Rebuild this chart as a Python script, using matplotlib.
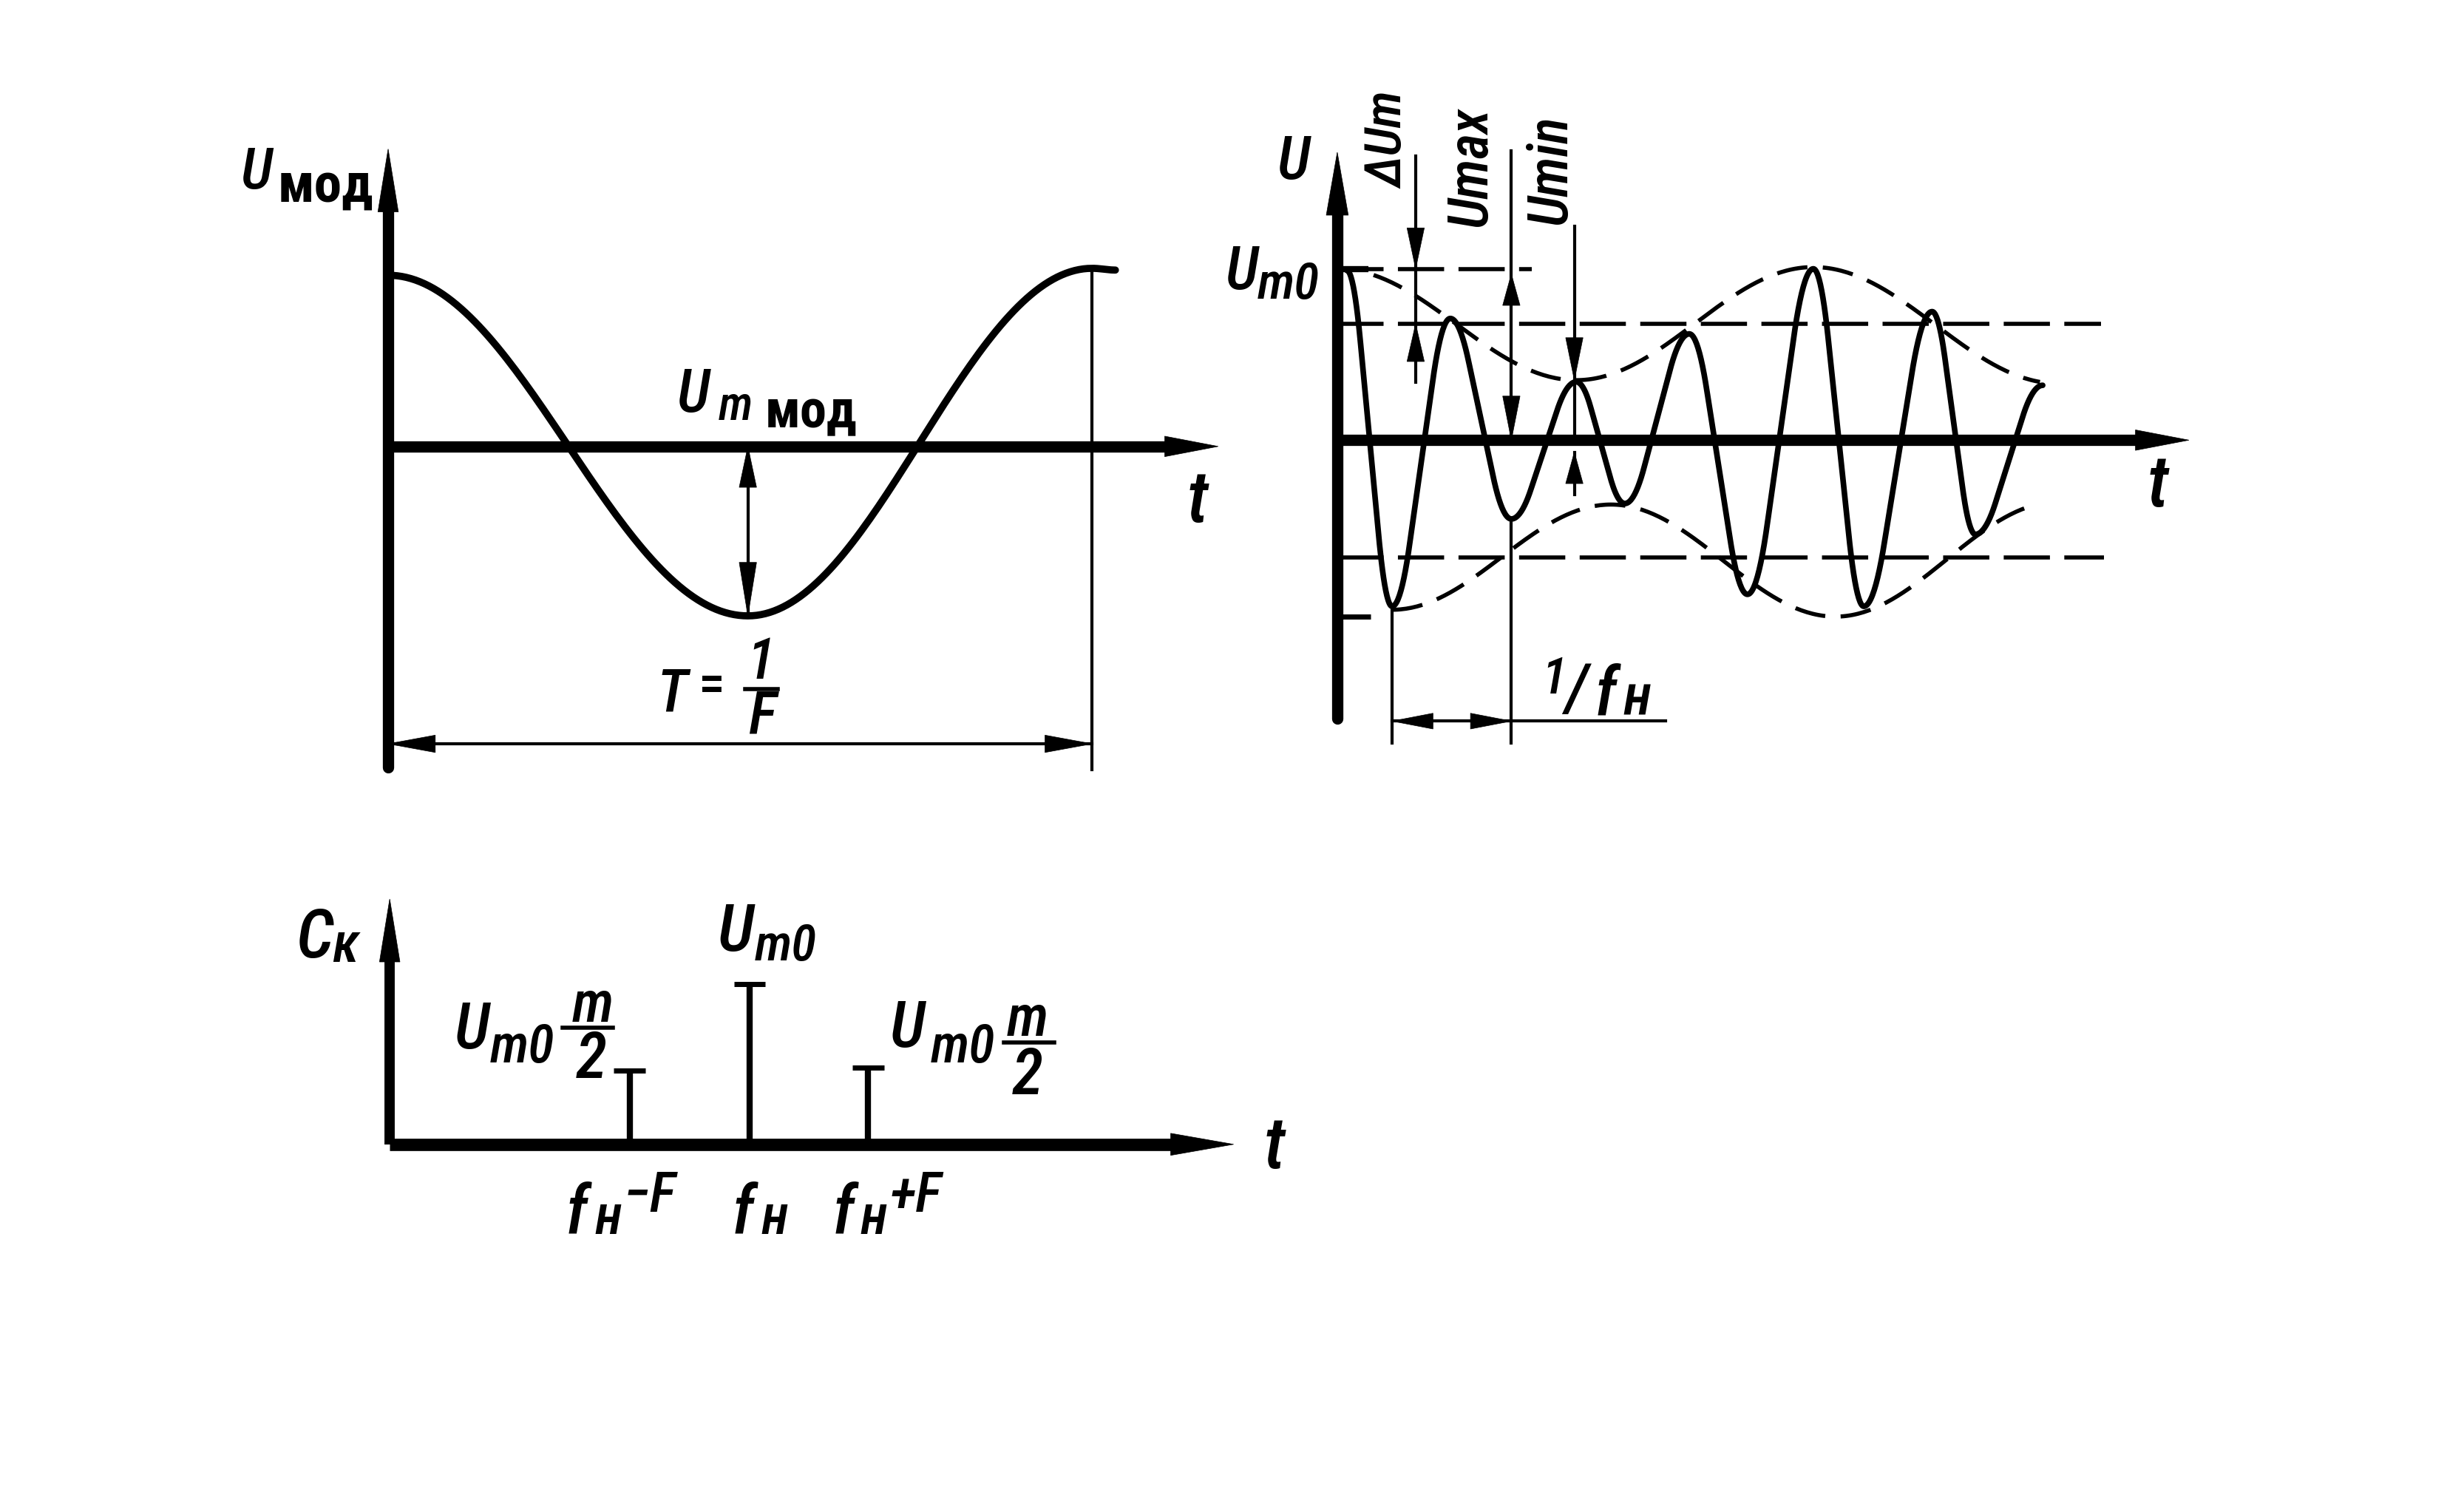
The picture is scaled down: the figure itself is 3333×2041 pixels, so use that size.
import numpy as np
import matplotlib
matplotlib.use('Agg')
import matplotlib.pyplot as plt
from matplotlib import transforms
from matplotlib.patches import Polygon
from matplotlib.lines import Line2D

plt.rcParams['lines.scale_dashes'] = False
plt.rcParams['font.family'] = ['Roboto Condensed', 'Roboto', 'DejaVu Sans']

# ---------------- data ----------------
# modulating signal, extrema: t in periods T, u in units of U_m мод
mod_t = [0.0, 0.511, 1.0, 1.033]
mod_u = [0.99, -0.98, 1.03, 1.02]

# AM oscillation, carrier extrema: t in modulation periods, u relative to U_max
am_t = [0.020, 0.114, 0.235, 0.362, 0.497, 0.598, 0.732, 0.853, 0.990, 1.095, 1.237, 1.327, 1.467]
am_u = [0.99, -0.97, 0.71, -0.46, 0.34, -0.37, 0.62, -0.90, 1.00, -0.97, 0.75, -0.55, 0.32]

# envelope extrema
env_up_t = [0.0, 0.497, 0.990, 1.50]
env_up_u = [1.0, 0.35, 1.01, 0.33]
env_lo_t = [0.114, 0.569, 1.036, 1.50]
env_lo_u = [-0.99, -0.376, -1.03, -0.36]

# dashed reference levels
lvl_top = 1.0
lvl_mid = 0.679
lvl_low = -0.685
lvl_neg = -1.03

# spectrum: f_н - F, f_н, f_н + F and heights C_k
spec_f = [2.036, 3.053, 4.059]
spec_c = [0.458, 1.0, 0.48]

# ---------------- helpers ----------------
W, H = 1568, 960
fig = plt.figure(figsize=(33.33, 20.41), dpi=100)
grid = transforms.Affine2D().scale(1 / W, -1 / H).translate(0, 1) + fig.transFigure
scales = {}


def panel(left, top, right, bottom, x0, sx, y0, sy):
    ax = fig.add_axes([left / W, 1 - bottom / H, (right - left) / W, (bottom - top) / H])
    ax.set_xlim((left - x0) / sx, (right - x0) / sx)
    ax.set_ylim((y0 - bottom) / sy, (y0 - top) / sy)
    ax.set_axis_off()
    scales[ax] = (sx, sy)
    return ax


def head(ax, x, y, ux, uy, L, w):
    sx, sy = scales[ax]
    bx, by = x - ux * L / sx, y - uy * L / sy
    px, py = -uy, ux
    pts = [(x, y), (bx + px * w / 2 / sx, by + py * w / 2 / sy),
           (bx - px * w / 2 / sx, by - py * w / 2 / sy)]
    ax.add_patch(Polygon(pts, closed=True, fc='k', ec='k', lw=0.5, clip_on=False))


def smooth(u):
    return (1 - np.cos(np.pi * u)) / 2


def steep(u, r=0.3):
    u0 = np.linspace(0, 1, 600)
    d = np.minimum(np.minimum(u0 / r, 1.0), (1 - u0) / r)
    s0 = np.concatenate([[0], np.cumsum((d[1:] + d[:-1]) / 2)])
    s0 /= s0[-1]
    return np.interp(u, u0, s0)


def through(ts, us, profile):
    xs, ys = [ts[0]], [us[0]]
    for i in range(len(ts) - 1):
        u = np.linspace(0, 1, 80)[1:]
        xs.extend(ts[i] + (ts[i + 1] - ts[i]) * u)
        ys.extend(us[i] + (us[i + 1] - us[i]) * profile(u))
    return np.array(xs), np.array(ys)


def label(s, x, y, size, style='italic', weight='medium', ha='center', va='baseline', rot=0):
    fig.text(x, y, s, transform=grid, fontsize=size, fontstyle=style, fontweight=weight,
             ha=ha, va=va, rotation=rot, color='black')


def bar(x0, x1, y, lw=4):
    fig.add_artist(Line2D([x0, x1], [y, y], transform=grid, lw=lw, color='black'))


AX = 11
THIN = 3
K = 'black'

# ---------------- left panel: modulating signal ----------------
ax1 = panel(120, 60, 820, 520, x0=247, sx=448, y0=284, sy=110)
ax1.plot([0, 0], [-1.855, 1.45], color=K, lw=AX, solid_capstyle='round')
head(ax1, 0, 1.72, 0, 1, 40, 13)
ax1.plot([0, 1.12], [0, 0], color=K, lw=AX, solid_capstyle='butt')
head(ax1, 1.179, 0, 1, 0, 34, 13)
tx, ty = through(mod_t, mod_u, smooth)
ax1.plot(tx, ty, color=K, lw=7, solid_capstyle='round')
ax1.plot([mod_t[2], mod_t[2]], [mod_u[2], -1.87], color=K, lw=THIN)
ax1.plot([0, mod_t[2]], [-1.72, -1.72], color=K, lw=THIN)
head(ax1, 0, -1.72, -1, 0, 30, 11)
head(ax1, mod_t[2], -1.72, 1, 0, 30, 11)
ax1.plot([mod_t[1], mod_t[1]], [0, mod_u[1]], color=K, lw=THIN)
head(ax1, mod_t[1], 0, 0, 1, 26, 11)
head(ax1, mod_t[1], mod_u[1], 0, -1, 34, 11)

label('U', 163, 120, 56)
label('мод', 207, 128, 54, style='normal', weight='bold')
label('U', 441, 262, 58)
label('m', 468, 267, 46)
label('мод', 516, 272, 52, style='normal', weight='bold')
label('t', 762, 332, 70)
label('T', 428, 453, 58)
label('=', 453, 446, 52, style='normal')
label('1', 484, 432, 56)
bar(474, 495, 438.5)
label('F', 485, 467, 58)

# ---------------- right panel: AM oscillation ----------------
ax2 = panel(760, 40, 1420, 500, x0=851, sx=306, y0=280, sy=109)
ax2.plot([0, 0], [-1.624, 1.40], color=K, lw=AX, solid_capstyle='round')
head(ax2, 0, 1.68, 0, 1, 40, 14)
ax2.plot([0, 1.70], [0, 0], color=K, lw=AX, solid_capstyle='butt')
head(ax2, 1.771, 0, 1, 0, 34, 13)
dash_h = (45, 14)
dash_e = (30, 15)
ax2.plot([0, 0.405], [lvl_top, lvl_top], color=K, lw=4, dashes=dash_h)
ax2.plot([0, 0.065], [lvl_top, lvl_top], color=K, lw=6, solid_capstyle='butt')
ax2.plot([0, 1.588], [lvl_mid, lvl_mid], color=K, lw=4, dashes=dash_h)
ax2.plot([0, 1.595], [lvl_low, lvl_low], color=K, lw=4, dashes=dash_h)
ax2.plot([0, 0.07], [lvl_neg, lvl_neg], color=K, lw=5, solid_capstyle='butt')
ex, ey = through(env_up_t, env_up_u, smooth)
m = (ex >= 0.07) & (ex <= 1.467)
ax2.plot(ex[m], ey[m], color=K, lw=4, dashes=dash_e)
ex, ey = through(env_lo_t, env_lo_u, smooth)
m = ex <= 1.454
ax2.plot(ex[m], ey[m], color=K, lw=4, dashes=dash_e)
cx, cy = through(am_t, am_u, steep)
ax2.plot(cx, cy, color=K, lw=5.5, solid_capstyle='round', solid_joinstyle='round')

# ΔU_m
du_t = 0.163
ax2.plot([du_t, du_t], [0.34, 1.66], color=K, lw=THIN)
head(ax2, du_t, lvl_top, 0, -1, 26, 11)
head(ax2, du_t, lvl_mid, 0, 1, 24, 11)
# U_max
ax2.plot([am_t[3], am_t[3]], [0, 1.69], color=K, lw=THIN)
head(ax2, am_t[3], 0.97, 0, 1, 20, 11)
head(ax2, am_t[3], 0, 0, -1, 28, 11)
# U_min
umin_t = env_up_t[1] - 0.004
ax2.plot([umin_t, umin_t], [0, 1.25], color=K, lw=THIN)
head(ax2, umin_t, env_up_u[1], 0, -1, 27, 11)
ax2.plot([umin_t, umin_t], [-0.07, -0.32], color=K, lw=THIN)
head(ax2, umin_t, -0.07, 0, 1, 20, 11)
# carrier period 1/f_н
ax2.plot([am_t[1], am_t[1]], [am_u[1], -1.77], color=K, lw=THIN)
ax2.plot([am_t[3], am_t[3]], [am_u[3], -1.77], color=K, lw=THIN)
ax2.plot([am_t[1], 0.683], [-1.64, -1.64], color=K, lw=THIN)
head(ax2, am_t[1], -1.64, -1, 0, 26, 10)
head(ax2, am_t[3], -1.64, 1, 0, 26, 10)

label('U', 823, 114, 58)
label('U', 790, 184, 58)
label('m0', 800, 190, 50, ha='left')
label('ΔUm', 884, 89, 50, va='center', rot=90)
label('Umax', 936, 106, 54, va='center', rot=90)
label('Umin', 987, 108, 54, va='center', rot=90)
label('t', 1373, 322, 70)
label('1', 989, 441, 50)
label('/', 1003, 452, 64)
label('f', 1022, 455, 66)
label('н', 1042, 455, 56)

# ---------------- bottom panel: spectrum ----------------
ax3 = panel(150, 540, 850, 800, x0=248, sx=75, y0=728, sy=102)
ax3.plot([0, 0], [0, 1.25], color=K, lw=10, solid_capstyle='butt')
head(ax3, 0, 1.53, 0, 1, 40, 13)
ax3.plot([0, 6.7], [0, 0], color=K, lw=12, solid_capstyle='butt')
head(ax3, 7.16, 0, 1, 0, 40, 14)
ax3.vlines(spec_f, 0, spec_c, color=K, lw=6)
cap = 10 / 75
ax3.hlines(spec_c, np.array(spec_f) - cap, np.array(spec_f) + cap, color=K, lw=5)

label('C', 200, 609, 66)
label('к', 220, 612, 54)
label('t', 811, 743, 70)
label('U', 468, 605, 64)
label('m0', 480, 611, 50, ha='left')
label('U', 300, 667, 62)
label('m0', 312, 676, 52, ha='left')
label('m', 377, 650, 56)
bar(358, 390, 654)
label('2', 376, 686, 62)
label('U', 577, 666, 62)
label('m0', 592, 676, 52, ha='left')
label('m', 654, 659, 56)
bar(639, 671, 663)
label('2', 654, 696, 62)

label('f', 367, 785, 66)
label('н', 387, 785, 54)
label('−F', 397, 771, 54, ha='left')
label('f', 473, 785, 66)
label('н', 493, 785, 54)
label('f', 537, 785, 66)
label('н', 556, 785, 54)
label('+F', 566, 771, 54, ha='left')

fig.savefig('out.png', dpi=100, facecolor='white')
